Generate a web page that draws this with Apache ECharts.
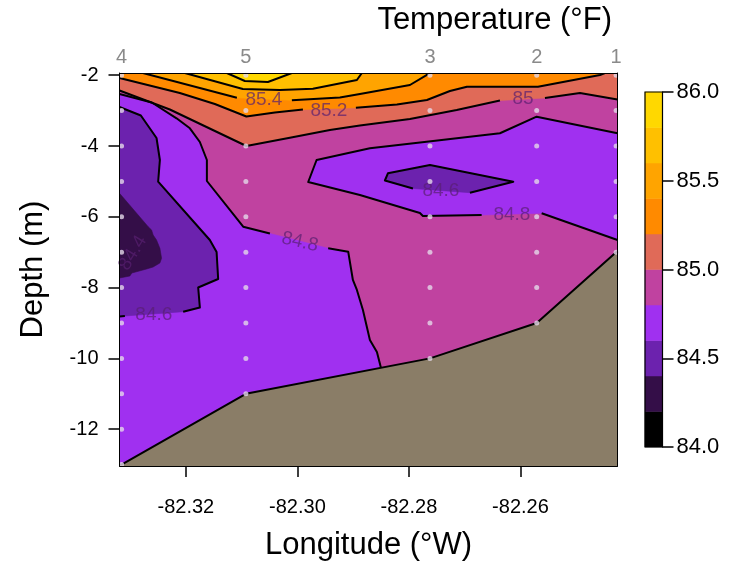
<!DOCTYPE html>
<html><head><meta charset="utf-8">
<script src="https://cdn.jsdelivr.net/npm/echarts@6/dist/echarts.min.js"></script>
<style>html,body{margin:0;padding:0;background:#fff}#c{width:731px;height:564px}</style>
</head><body><div id="c"></div>
<script>
// ---------- data ----------
const stationNames = ['4','5','3','2','1'];
const stationLon = [-82.33153, -82.30924, -82.27623, -82.25709, -82.24285];
const stationBottom = [-13, -11, -10, -9, -7];
const sampleDepths = [-2,-3,-4,-5,-6,-7,-8,-9,-10,-11,-12,-13];
const lonRange = [-82.3319, -82.2426];
const depthRange = [-13.04, -1.938];
const xTicks = [-82.32, -82.30, -82.28, -82.26];
const yTicks = [-2, -4, -6, -8, -10, -12];
const tempLevels = [84.0,84.2,84.4,84.6,84.8,85.0,85.2,85.4,85.6,85.8,86.0];
const bandColors = ['#000000','#340E48','#6C22AE','#A030F0','#C042A0','#E06A58','#FF8A00','#FFA400','#FFC000','#FFD800'];
const cbTicks = [84.0,84.5,85.0,85.5,86.0];
const bathyColor = '#8A7D67';

// contour lines (lon, depth); each contour is a list of segments (gaps = labels)
const c850 = [
 [[-82.3319,-2.432],[-82.32287,-2.969],[-82.30915,-4.000],[-82.30135,-3.766],[-82.29417,-3.548],[-82.28879,-3.421],[-82.27982,-3.237],[-82.27144,-2.983],[-82.26368,-2.715]],
 [[-82.25561,-2.644],[-82.24933,-2.503],[-82.2426,-2.686]]
];
const c852 = [
 [[-82.3319,-2.079],[-82.32108,-2.503],[-82.31480,-2.814],[-82.30915,-3.167],[-82.30404,-3.054],[-82.29901,-2.969]],
 [[-82.28951,-2.918],[-82.28215,-2.828],[-82.27677,-2.701],[-82.27265,-2.446],[-82.26960,-2.325],[-82.25686,-2.325],[-82.24574,-1.994],[-82.24484,-1.938]]
];
const c854 = [
 [[-82.32771,-1.938],[-82.31085,-2.638]],
 [[-82.30099,-2.709],[-82.29238,-2.630],[-82.28879,-2.531],[-82.27982,-2.277],[-82.27677,-1.994],[-82.27641,-1.938]]
];
const c856 = [
 [[-82.32018,-1.938],[-82.30978,-2.390],[-82.30314,-2.418],[-82.29722,-2.381],[-82.28933,-2.136],[-82.28843,-1.938]]
];
const c858 = [
 [[-82.31265,-1.938],[-82.30942,-2.164],[-82.30529,-2.192],[-82.30099,-1.938]]
];
const c848a = [
 [[-82.3319,-2.531],[-82.32610,-2.771],[-82.32167,-3.218],[-82.31928,-3.500],[-82.31749,-3.887],[-82.31623,-4.396],[-82.31623,-4.989],[-82.30972,-6.280],[-82.30493,-6.472]],
 [[-82.29448,-6.890],[-82.29089,-6.986],[-82.29005,-7.785],[-82.28933,-8.068],[-82.28825,-8.633],[-82.28700,-9.480],[-82.28574,-9.819],[-82.28502,-10.266]]
];
const c846a = [
 [[-82.3319,-2.898],[-82.32807,-3.138],[-82.32526,-3.774],[-82.32466,-4.396],[-82.32497,-5.009],[-82.31570,-6.655],[-82.31449,-6.994],[-82.31421,-7.757],[-82.31779,-7.997],[-82.31749,-8.562],[-82.32048,-8.681]],
 [[-82.33094,-8.802],[-82.3319,-8.817]]
];
const r844 = [[-82.3319,-5.336],[-82.32676,-6.280],[-82.32615,-6.373],[-82.32587,-6.514],[-82.32526,-6.655],[-82.32466,-6.890],[-82.32436,-7.172],[-82.32466,-7.305],[-82.32587,-7.418],[-82.32705,-7.475],[-82.32969,-7.588],[-82.33004,-7.672],[-82.3319,-7.729]];
const c848b = [
 [[-82.2426,-3.641],[-82.25710,-3.172],[-82.26368,-3.641],[-82.27683,-3.879],[-82.28700,-4.065],[-82.29656,-4.396],[-82.29806,-5.017],[-82.28879,-5.384],[-82.27803,-5.893],[-82.27749,-5.978],[-82.26696,-5.949]],
 [[-82.25620,-5.901],[-82.2426,-6.655]]
];
const c846b = [
 [[-82.26906,-5.319],[-82.26129,-5.009],[-82.27623,-4.537],[-82.28377,-4.771],[-82.28431,-4.975],[-82.27928,-5.201]]
];
const contourLabels = [
 {text:'85',   at:[-82.25955,-2.672], rot:0},
 {text:'85.2', at:[-82.29435,-2.997], rot:0},
 {text:'85.4', at:[-82.30601,-2.701], rot:0},
 {text:'84.8', at:[-82.29955,-6.712], rot:-13},
 {text:'84.8', at:[-82.26153,-5.949], rot:0},
 {text:'84.6', at:[-82.27426,-5.257], rot:0},
 {text:'84.6', at:[-82.32574,-8.774], rot:0},
 {text:'84.4', at:[-82.32951,-7.023], rot:59}
];

// ---------- build ----------
const [xMin, xMax] = lonRange;
const [yMin, yMax] = depthRange;
const flat = c => c.reduce((a, s) => a.concat(s), []);
const band = t => bandColors[tempLevels.indexOf(t)];
const fills = [
 {pts:[[xMin,yMin],[xMax,yMin],[xMax,yMax],[xMin,yMax]], color:band(84.8)},
 {pts:flat(c850).concat([[xMax,yMax],[xMin,yMax]]), color:band(85.0)},
 {pts:flat(c852).concat([[xMin,yMax]]), color:band(85.2)},
 {pts:flat(c854), color:band(85.4)},
 {pts:flat(c856), color:band(85.6)},
 {pts:flat(c858), color:band(85.8)},
 {pts:flat(c848a).concat([[c848a[1][c848a[1].length-1][0],yMin],[xMin,yMin]]), color:band(84.6)},
 {pts:flat(c846a), color:band(84.4)},
 {pts:r844, color:band(84.2)},
 {pts:flat(c848b), color:band(84.6)},
 {pts:flat(c846b), color:band(84.4)}
];
const bathyPts = [[xMin, stationBottom[0]]].concat(stationLon.map((x,i)=>[x, stationBottom[i]])).concat([[xMax, stationBottom[stationBottom.length-1]]]);
const bathyPoly = bathyPts.concat([[xMax,yMin],[xMin,yMin]]);
const lineSegs = [].concat(c850, c852, c854, c856, c858, c848a, c846a, c848b, c846b, [bathyPts]);
const dots = [];
stationLon.forEach((x,i)=>{ sampleDepths.forEach(d=>{ if (d >= stationBottom[i]) dots.push([x,d]); }); });

const FONT = '"Liberation Sans", Arial, sans-serif';
const chart = echarts.init(document.getElementById('c'), null, {renderer:'canvas'});

chart.setOption({
  animation:false,
  backgroundColor:'#fff',
  title:{text:'Temperature (°F)', right:114, top:0, textStyle:{fontSize:31, fontWeight:'normal', color:'#000', fontFamily:FONT}},
  grid:[
    {left:119.5, top:73, right:113.5, bottom:98, containLabel:false, outerBoundsMode:'none'},
    {left:645, top:92, width:17.5, height:355, containLabel:false, outerBoundsMode:'none'}
  ],
  xAxis:[
    {type:'value', gridIndex:0, min:xMin, max:xMax, position:'bottom', z:10,
     axisLine:{show:true, onZero:false, lineStyle:{color:'#000', width:1}},
     axisTick:{show:true, customValues:xTicks, length:11, lineStyle:{color:'#000', width:1.5}},
     axisLabel:{show:true, customValues:xTicks, formatter:v=>v.toFixed(2), margin:31, fontSize:20, color:'#000', fontFamily:FONT},
     splitLine:{show:false},
     name:'Longitude (°W)', nameLocation:'middle', nameGap:64, nameTextStyle:{fontSize:31, color:'#000', fontFamily:FONT}},
    {type:'value', gridIndex:0, min:xMin, max:xMax, position:'top', z:10,
     axisLine:{show:true, onZero:false, lineStyle:{color:'#000', width:1}},
     axisTick:{show:false}, axisLabel:{show:false}, splitLine:{show:false}},
    {type:'category', gridIndex:1, data:['cb'], show:false}
  ],
  yAxis:[
    {type:'value', gridIndex:0, min:yMin, max:yMax, position:'left', z:10,
     axisLine:{show:true, onZero:false, lineStyle:{color:'#000', width:1}},
     axisTick:{show:true, customValues:yTicks, length:11, lineStyle:{color:'#000', width:1.5}},
     axisLabel:{show:true, customValues:yTicks, formatter:v=>String(v), margin:21, fontSize:20, color:'#000', fontFamily:FONT},
     splitLine:{show:false},
     name:'Depth (m)', nameLocation:'middle', nameRotate:90, nameGap:71, nameTextStyle:{fontSize:31, color:'#000', fontFamily:FONT}},
    {type:'value', gridIndex:0, min:yMin, max:yMax, position:'right', z:10,
     axisLine:{show:true, onZero:false, lineStyle:{color:'#000', width:1}},
     axisTick:{show:false}, axisLabel:{show:false}, splitLine:{show:false}},
    {type:'value', gridIndex:1, min:84, max:86, interval:0.5, position:'right', z:10,
     axisLine:{show:true, lineStyle:{color:'#000', width:1}},
     axisTick:{show:true, customValues:cbTicks, length:11, lineStyle:{color:'#000', width:1.5}},
     axisLabel:{customValues:cbTicks, formatter:v=>v.toFixed(1), margin:14, fontSize:22, color:'#000', fontFamily:FONT},
     splitLine:{show:false}}
  ],
  series:[
    {type:'custom', xAxisIndex:0, yAxisIndex:0, z:1, silent:true, clip:true,
     data:fills.map((f,i)=>[f.pts[0][0], f.pts[0][1], i]),
     renderItem:(params, api)=>{
       const f = fills[params.dataIndex];
       return {type:'polygon', shape:{points:f.pts.map(p=>api.coord(p))}, style:{fill:f.color, stroke:f.color, lineWidth:0.6}};
     }},
    {type:'custom', xAxisIndex:0, yAxisIndex:0, z:2, silent:true, clip:true,
     data:[[bathyPoly[0][0], bathyPoly[0][1]]],
     renderItem:(params, api)=>({type:'polygon', shape:{points:bathyPoly.map(p=>api.coord(p))}, style:{fill:bathyColor}})},
    {type:'custom', xAxisIndex:0, yAxisIndex:0, z:3, silent:true, clip:true,
     data:lineSegs.map((s,i)=>[s[0][0], s[0][1], i]),
     renderItem:(params, api)=>{
       const s = lineSegs[params.dataIndex];
       return {type:'polyline', shape:{points:s.map(p=>api.coord(p))}, style:{stroke:'#000', lineWidth:2, fill:null, lineJoin:'round'}};
     }},
    {type:'custom', xAxisIndex:0, yAxisIndex:0, z:4, silent:true, clip:false,
     data:contourLabels.map((l,i)=>[l.at[0], l.at[1], i]),
     renderItem:(params, api)=>{
       const l = contourLabels[params.dataIndex];
       const p = api.coord(l.at);
       return {type:'text', x:p[0], y:p[1], rotation:l.rot*Math.PI/180,
         style:{text:l.text, fill:'rgba(88,32,112,0.7)', fontSize:19, fontFamily:FONT, align:'center', verticalAlign:'middle'}};
     }},
    {type:'scatter', xAxisIndex:0, yAxisIndex:0, z:5, silent:true, symbol:'circle', symbolSize:5,
     itemStyle:{color:'#E4D8E8'}, data:dots},
    {type:'custom', xAxisIndex:0, yAxisIndex:0, z:5, silent:true, clip:false,
     data:stationLon.map((x,i)=>[x, yMax, i]),
     renderItem:(params, api)=>{
       const p = api.coord([api.value(0), api.value(1)]);
       return {type:'text', x:p[0], y:p[1]-16,
         style:{text:stationNames[params.dataIndex], fill:'#8A8A8A', fontSize:20, fontFamily:FONT, align:'center', verticalAlign:'middle'}};
     }},
    {type:'custom', xAxisIndex:2, yAxisIndex:2, z:1, silent:true, clip:false,
     data:bandColors.map((c,i)=>[0, tempLevels[i], tempLevels[i+1], i]),
     renderItem:(params, api)=>{
       const lo = api.coord([0, api.value(1)]);
       const hi = api.coord([0, api.value(2)]);
       const w = api.size([1, 0])[0];
       return {type:'rect', shape:{x:lo[0]-w/2, y:hi[1], width:w, height:lo[1]-hi[1]},
         style:{fill:bandColors[params.dataIndex], stroke:bandColors[params.dataIndex], lineWidth:0.5}};
     }},
    {type:'custom', xAxisIndex:2, yAxisIndex:2, z:3, silent:true, clip:false,
     data:[[0, tempLevels[0], tempLevels[tempLevels.length-1]]],
     renderItem:(params, api)=>{
       const lo = api.coord([0, api.value(1)]);
       const hi = api.coord([0, api.value(2)]);
       const w = api.size([1, 0])[0];
       return {type:'rect', shape:{x:lo[0]-w/2, y:hi[1], width:w, height:lo[1]-hi[1]},
         style:{fill:null, stroke:'#000', lineWidth:1.2}};
     }}
  ]
});
</script></body></html>
